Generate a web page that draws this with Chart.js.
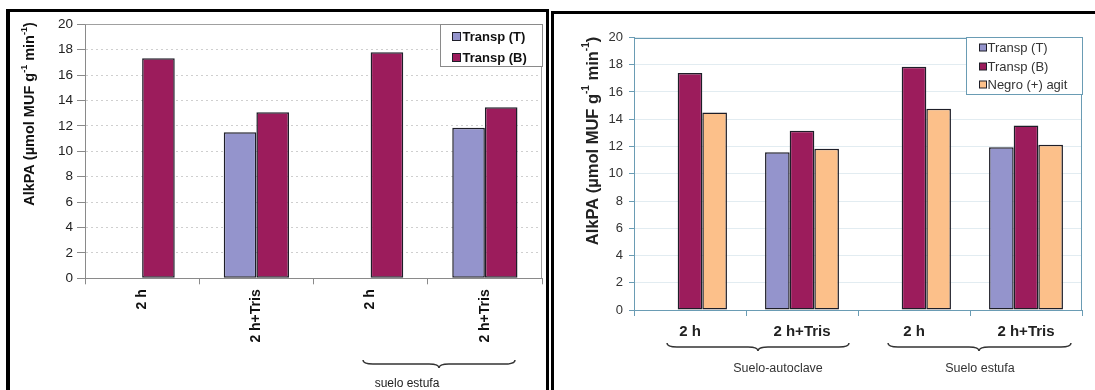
<!DOCTYPE html>
<html>
<head>
<meta charset="utf-8">
<script src="https://cdn.jsdelivr.net/npm/chart.js@4/dist/chart.umd.min.js"></script>
<style>
  html, body { margin: 0; padding: 0; background: #fff; width: 1095px; height: 390px; overflow: hidden; }
  .frame { position: absolute; box-sizing: border-box; }
  #frameL { left: 6px; top: 9px; width: 543px; height: 381px; border-top: 3px solid #000; border-left: 4px solid #000; border-right: 3px solid #000; }
  #frameR { left: 551px; top: 11px; width: 544px; height: 379px; border-top: 3px solid #000; border-left: 3px solid #000; }
  canvas { position: absolute; }
  #cL { left: 10px; top: 12px; }
  #cR { left: 554px; top: 14px; }
  #notes { position: absolute; left: 0; top: 0; }
</style>
</head>
<body>
<div class="frame" id="frameL"></div>
<div class="frame" id="frameR"></div>
<canvas id="cL" width="536" height="378"></canvas>
<canvas id="cR" width="541" height="376"></canvas>
<svg id="notes" width="1095" height="390"></svg>
<script>
// Alkaline phosphatase activity by incubation treatment
const categories = ['2 h', '2 h+Tris', '2 h', '2 h+Tris'];
const seriesNames = ['Transp (T)', 'Transp (B)', 'Negro (+) agit'];

// Left panel: transparent tubes only
const leftTranspT = [null, 11.5, null, 11.86];
const leftTranspB = [17.32, 13.07, 17.8, 13.46];

// Right panel: transparent tubes plus dark tubes with shaking
const rightTranspT = [null, 11.58, null, 11.95];
const rightTranspB = [17.4, 13.15, 17.85, 13.55];
const rightNegroAgit = [14.5, 11.83, 14.77, 12.12];

// Value axis
const yMin = 0;
const yMax = 20;
const yStep = 2;

// Soil treatment groups under the category axis
const leftGroups = ['suelo estufa'];
const rightGroups = ['Suelo-autoclave', 'Suelo estufa'];

const FONT = '"Liberation Sans", Arial, Helvetica, sans-serif';
const COLORS = ['#9494cc', '#9c1c5c', '#fcc08a'];
const EDGE = '#1e1e28';

const titleParts = [
  { t: 'AlkPA (\u00b5mol MUF g' }, { t: '-1', sup: true },
  { t: ' min' }, { t: '-1', sup: true }, { t: ')' }
];

// Rotated axis title with superscript exponents
function yTitlePlugin(o) {
  return {
    id: 'yTitle',
    afterDraw(chart) {
      const ctx = chart.ctx;
      ctx.save();
      ctx.fillStyle = o.color;
      ctx.textBaseline = 'middle';
      const big = 'bold ' + o.size + 'px ' + FONT;
      const small = 'bold ' + Math.round(o.size * 0.62) + 'px ' + FONT;
      let total = 0;
      const widths = titleParts.map(p => { ctx.font = p.sup ? small : big; const w = ctx.measureText(p.t).width; total += w; return w; });
      ctx.translate(o.x, o.y);
      ctx.rotate(-Math.PI / 2);
      let x = -total / 2;
      titleParts.forEach((p, i) => {
        ctx.font = p.sup ? small : big;
        ctx.fillText(p.t, x, p.sup ? -o.size * 0.38 : 0);
        x += widths[i];
      });
      ctx.restore();
    }
  };
}

// Frame around the plotting area
function plotFramePlugin(color) {
  return {
    id: 'plotFrame',
    beforeDatasetsDraw(chart) {
      const a = chart.chartArea, ctx = chart.ctx;
      ctx.save();
      ctx.strokeStyle = color;
      ctx.lineWidth = 1;
      ctx.beginPath();
      ctx.moveTo(Math.round(a.left) + 0.5, Math.round(a.top) + 0.5);
      ctx.lineTo(Math.round(a.right) - 0.5, Math.round(a.top) + 0.5);
      ctx.lineTo(Math.round(a.right) - 0.5, Math.round(a.bottom));
      ctx.stroke();
      ctx.restore();
    }
  };
}

// Boxed legend in the top-right corner of the plot
function boxLegendPlugin(o) {
  return {
    id: 'boxLegend',
    afterDraw(chart) {
      const a = chart.chartArea, ctx = chart.ctx;
      const x0 = Math.round(a.right - o.w) + 0.5, y0 = Math.round(a.top + o.dy) + 0.5;
      ctx.save();
      ctx.fillStyle = '#fff';
      ctx.fillRect(x0, y0, o.w, o.h);
      ctx.strokeStyle = o.border;
      ctx.lineWidth = 1;
      ctx.strokeRect(x0, y0, o.w, o.h);
      ctx.font = o.font;
      ctx.textBaseline = 'middle';
      chart.data.datasets.forEach((ds, i) => {
        const cy = y0 + o.rows[i];
        ctx.fillStyle = ds.backgroundColor;
        ctx.fillRect(x0 + o.mx, cy - o.ms / 2, o.ms, o.ms);
        ctx.strokeStyle = EDGE;
        ctx.strokeRect(x0 + o.mx, cy - o.ms / 2, o.ms, o.ms);
        ctx.fillStyle = o.color;
        ctx.fillText(ds.label, x0 + o.tx, cy + 0.5);
      });
      ctx.restore();
    }
  };
}

function barSet(label, data, color) {
  return { label, data, backgroundColor: color, borderColor: EDGE, borderWidth: 1.5, borderSkipped: false };
}

// Left chart
new Chart(document.getElementById('cL'), {
  type: 'bar',
  data: {
    labels: categories,
    datasets: [
      barSet(seriesNames[0], leftTranspT, COLORS[0]),
      barSet(seriesNames[1], leftTranspB, COLORS[1])
    ]
  },
  options: {
    responsive: false,
    animation: false,
    layout: { padding: { top: 12.3, right: 4, left: 0, bottom: 0 } },
    datasets: { bar: { barPercentage: 1, categoryPercentage: 0.571 } },
    plugins: { legend: { display: false }, tooltip: { enabled: false } },
    scales: {
      x: {
        ticks: { minRotation: 90, maxRotation: 90, color: '#111', padding: 5, font: { family: FONT, size: 14, weight: 'bold' } },
        grid: { drawOnChartArea: false, drawTicks: true, tickLength: 6, color: '#8a8a8a' },
        border: { color: '#8a8a8a', width: 1 },
        afterFit(s) { s.height = 111.7; }
      },
      y: {
        min: yMin, max: yMax,
        ticks: { stepSize: yStep, color: '#222', padding: 4, font: { family: FONT, size: 13.5 } },
        grid: { color: '#cfcfcf', tickColor: '#8a8a8a', tickLength: 8 },
        border: { color: '#8a8a8a', width: 1, dash: [2, 3] },
        afterFit(s) { s.width = 75; }
      }
    }
  },
  plugins: [
    plotFramePlugin('#a0a0a0'),
    yTitlePlugin({ x: 20, y: 102, size: 14.5, color: '#111' }),
    boxLegendPlugin({ w: 102, h: 42, dy: 0, rows: [12, 33], mx: 12, ms: 8, tx: 22, font: 'bold 13px ' + FONT, color: '#111', border: '#8a8a8a' })
  ]
});

// Right chart
new Chart(document.getElementById('cR'), {
  type: 'bar',
  data: {
    labels: categories,
    datasets: [
      barSet(seriesNames[0], rightTranspT, COLORS[0]),
      barSet(seriesNames[1], rightTranspB, COLORS[1]),
      barSet(seriesNames[2], rightNegroAgit, COLORS[2])
    ]
  },
  options: {
    responsive: false,
    animation: false,
    layout: { padding: { top: 23.5, right: 13, left: 0, bottom: 0 } },
    datasets: { bar: { barPercentage: 1, categoryPercentage: 0.66 } },
    plugins: { legend: { display: false }, tooltip: { enabled: false } },
    scales: {
      x: {
        ticks: { maxRotation: 0, minRotation: 0, color: '#222', padding: 7, font: { family: FONT, size: 15, weight: 'bold' } },
        grid: { drawOnChartArea: false, drawTicks: true, tickLength: 6, color: '#6a9cb4' },
        border: { color: '#6a9cb4', width: 1 },
        afterFit(s) { s.height = 80; }
      },
      y: {
        min: yMin, max: yMax,
        ticks: { stepSize: yStep, color: '#333', padding: 6, font: { family: FONT, size: 13 } },
        grid: { color: '#e2ecf1', tickColor: '#6a9cb4', tickLength: 5 },
        border: { color: '#6a9cb4', width: 1 },
        afterFit(s) { s.width = 80; }
      }
    }
  },
  plugins: [
    plotFramePlugin('#6a9cb4'),
    yTitlePlugin({ x: 39, y: 127, size: 16.5, color: '#222' }),
    boxLegendPlugin({ w: 116, h: 57, dy: -1, rows: [10, 29, 47], mx: 13, ms: 7, tx: 21, font: '13px ' + FONT, color: '#333', border: '#6a9cb4' })
  ]
});

// Curly braces and treatment group captions
const braces = [
  { x1: 363, x2: 515, tip: 439, y: 364, label: leftGroups[0], lx: 407, ly: 387, size: 12, color: '#222' },
  { x1: 667, x2: 849, tip: 758, y: 347, label: rightGroups[0], lx: 778, ly: 372, size: 12.5, color: '#333' },
  { x1: 888, x2: 1071, tip: 979, y: 347, label: rightGroups[1], lx: 980, ly: 372, size: 12.5, color: '#333' }
];
const svg = document.getElementById('notes');
const NS = 'http://www.w3.org/2000/svg';
braces.forEach(b => {
  const h = 4;
  const d = `M${b.x1},${b.y - h} Q${b.x1},${b.y} ${b.x1 + 10},${b.y} L${b.tip - 10},${b.y} ` +
            `Q${b.tip},${b.y} ${b.tip},${b.y + h} Q${b.tip},${b.y} ${b.tip + 10},${b.y} ` +
            `L${b.x2 - 10},${b.y} Q${b.x2},${b.y} ${b.x2},${b.y - h}`;
  const p = document.createElementNS(NS, 'path');
  p.setAttribute('d', d);
  p.setAttribute('fill', 'none');
  p.setAttribute('stroke', '#333');
  p.setAttribute('stroke-width', '1.5');
  svg.appendChild(p);
  const t = document.createElementNS(NS, 'text');
  t.setAttribute('x', b.lx);
  t.setAttribute('y', b.ly);
  t.setAttribute('text-anchor', 'middle');
  t.setAttribute('font-family', FONT);
  t.setAttribute('font-size', b.size);
  t.setAttribute('fill', b.color);
  t.textContent = b.label;
  svg.appendChild(t);
});
</script>
</body>
</html>
